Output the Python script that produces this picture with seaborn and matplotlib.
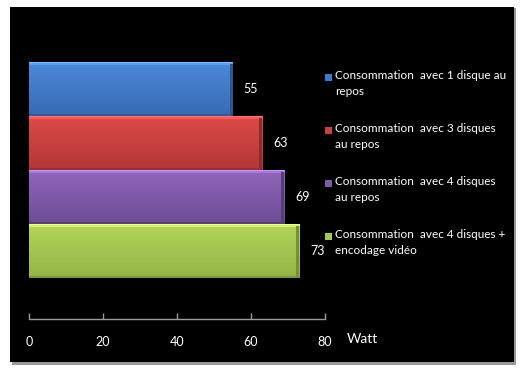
import matplotlib
matplotlib.use("Agg")
import matplotlib.pyplot as plt
from matplotlib.patches import Rectangle
from matplotlib.colors import to_rgb
import numpy as np
import seaborn as sns
import pandas as pd

categories = [
    "Consommation  avec 1 disque au\nrepos",
    "Consommation  avec 3 disques\nau repos",
    "Consommation  avec 4 disques\nau repos",
    "Consommation  avec 4 disques +\nencodage vidéo",
]
values = [55, 63, 69, 73]
colors = ["#3f79cc", "#cd3f3e", "#7e5ba8", "#a5c94e"]
top_colors = ["#4b8ad8", "#dd4a48", "#9266bd", "#b3d659"]
bottom_colors = ["#386ab4", "#b33736", "#6b4d94", "#94b446"]
x_ticks = [0, 20, 40, 60, 80]
unit_label = "Watt"

sns.set_theme(style="dark")
plt.rcParams["font.family"] = ["Lato", "DejaVu Sans"]

W, H = 528, 370
fig = plt.figure(figsize=(W / 100, H / 100), dpi=100)
fig.patch.set_facecolor("white")

# shadow + black panel
fig.patches.append(Rectangle((12 / W, 1 - 365 / H), 504 / W, 357 / H, transform=fig.transFigure,
                             facecolor="#9a9a9a", edgecolor="none", zorder=-2))
fig.patches.append(Rectangle((10 / W, 1 - 362 / H), 504 / W, 355 / H, transform=fig.transFigure,
                             facecolor="black", edgecolor="none", zorder=-1))

ax = fig.add_axes([29 / W, 1 - 319 / H, 296 / W, 279 / H])
ax.set_zorder(2)
ax.set_facecolor("none")

df = pd.DataFrame({"cat": categories, "val": values})
sns.barplot(data=df, y="cat", x="val", hue="cat", palette=colors, orient="h",
            width=1.0, dodge=False, legend=False, saturation=1, ax=ax)

ax.set_xlim(0, 80)
ax.set_ylim(4.259, -0.907)

# gradient / bevel shading clipped to each bar
bars = sorted(ax.patches, key=lambda p: p.get_y())
for p, tc, bc in zip(bars, top_colors, bottom_colors):
    p.set_edgecolor("none")
    n = 54
    t = np.linspace(0, 1, n)[:, None]
    grad = (1 - t) * np.array(to_rgb(tc)) + t * np.array(to_rgb(bc))
    grad[0:2] = np.minimum(1, np.array(to_rgb(tc)) * 1.25 + 0.08)
    grad[2:4] = np.minimum(1, np.array(to_rgb(tc)) * 1.1 + 0.03)
    grad[-2:] = np.array(to_rgb(bc)) * 0.85
    img = np.repeat(grad[:, None, :], 2, axis=1)
    x0, y0, w, h = p.get_x(), p.get_y(), p.get_width(), p.get_height()
    im = ax.imshow(img, extent=(x0, x0 + w, y0 + h, y0), origin="upper",
                   aspect="auto", interpolation="bilinear", zorder=p.get_zorder() + 0.1)
    im.set_clip_path(p)
    # darker bevel on the right end
    ax.add_patch(Rectangle((x0 + w - 0.8, y0 + 0.04), 0.8, h - 0.04,
                           facecolor=np.array(to_rgb(bc)) * 0.8, edgecolor="none",
                           zorder=p.get_zorder() + 0.2))

ax.set_xlim(0, 80)
ax.set_ylim(4.259, -0.907)
ax.set_xticks(x_ticks)
ax.set_yticks([])
ax.set_xlabel("")
ax.set_ylabel("")
ax.grid(False)
for s in ["top", "right", "left"]:
    ax.spines[s].set_visible(False)
ax.spines["bottom"].set_color("#9a9a9a")
ax.spines["bottom"].set_linewidth(1.0)
ax.tick_params(axis="x", direction="in", length=4, width=1, color="#9a9a9a",
               labelcolor="white", labelsize=9, pad=12, bottom=True)

for cont in ax.containers:
    ax.bar_label(cont, padding=8, color="white", fontsize=9)

# legend (manual)
for i, (lab, c) in enumerate(zip(categories, colors)):
    ytop = 77 + 53 * i
    fig.patches.append(Rectangle((325 / W, 1 - (ytop + 4) / H), 7 / W, 7 / H,
                                 transform=fig.transFigure, facecolor=c, edgecolor="none", zorder=3))
    fig.text(335 / W, 1 - (ytop - 7) / H, lab, color="white", fontsize=8.5,
             va="top", ha="left", linespacing=1.55)

fig.text(362 / W, 1 - 339 / H, unit_label, color="white", fontsize=10, ha="center", va="center")

fig.savefig("out.png", dpi=100, facecolor=fig.get_facecolor())
